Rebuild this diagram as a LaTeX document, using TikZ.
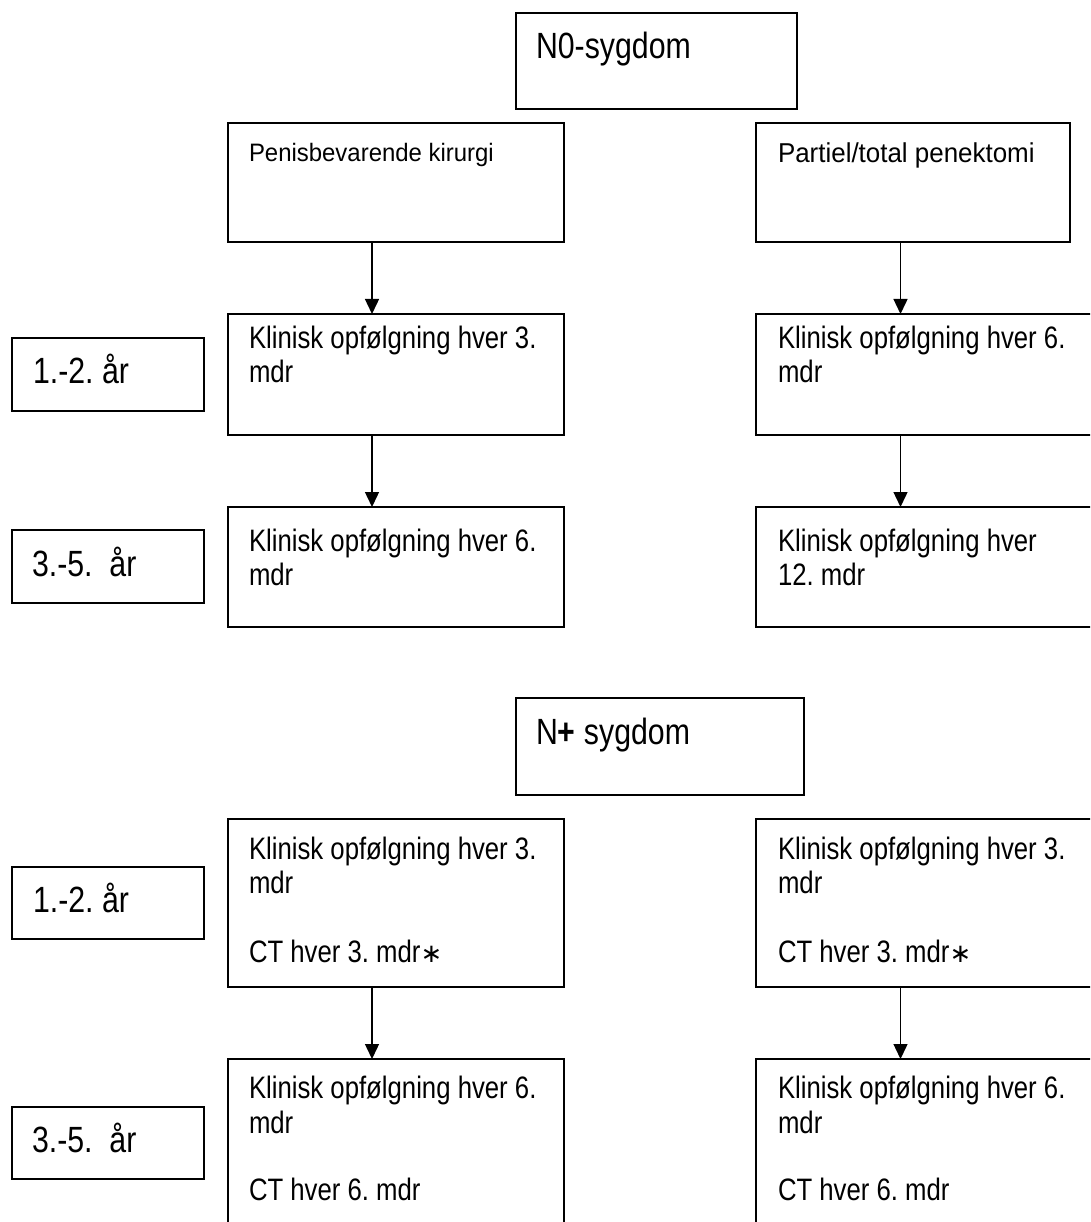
\documentclass[tikz,border=0pt]{standalone}
\usepackage{fontspec}
\usetikzlibrary{arrows.meta}
\newfontfamily\afn[FakeStretch=0.83]{Liberation Sans}
\newfontfamily\afw[FakeStretch=0.95]{Liberation Sans}
\newfontfamily\djv{DejaVu Sans}
\frenchspacing
\begin{document}
\begin{tikzpicture}[x=1pt,y=-1pt,
  boxst/.style={draw=black, line width=1.7pt, rectangle, inner sep=0pt, outer sep=0pt},
  txt/.style={anchor=base west, inner sep=0pt, outer sep=0pt, text=black},
  arr/.style={draw=black, line width=1.4pt, -{Triangle[width=14pt,length=15pt]}},
  kl/.style={txt, font=\afn\fontsize{31}{34}\selectfont},
  lab/.style={txt, font=\afn\fontsize{36.5}{40}\selectfont}]
\useasboundingbox (0,0) rectangle (1090,1222);
\clip (0,0) rectangle (1090,1222);
\fill[white] (0,0) rectangle (1090,1222);

% boxes
\node[boxst, minimum width=281pt, minimum height=96pt] (n0) at (656.5,61) {};
\node[boxst, minimum width=336pt, minimum height=119pt] (penis) at (396,182.5) {};
\node[boxst, minimum width=314pt, minimum height=119pt] (partiel) at (913,182.5) {};
\node[boxst, minimum width=336pt, minimum height=121pt] (k1l) at (396,374.5) {};
\node[boxst, minimum width=344pt, minimum height=121pt] (k1r) at (928,374.5) {};
\node[boxst, minimum width=336pt, minimum height=120pt] (k2l) at (396,567) {};
\node[boxst, minimum width=344pt, minimum height=120pt] (k2r) at (928,567) {};
\node[boxst, minimum width=192pt, minimum height=73pt] (lab1) at (108,374.5) {};
\node[boxst, minimum width=192pt, minimum height=73pt] (lab2) at (108,566.5) {};
\node[boxst, minimum width=288pt, minimum height=97pt] (nplus) at (660,746.5) {};
\node[boxst, minimum width=336pt, minimum height=168pt] (k3l) at (396,903) {};
\node[boxst, minimum width=344pt, minimum height=168pt] (k3r) at (928,903) {};
\node[boxst, minimum width=336pt, minimum height=181pt] (k4l) at (396,1149.5) {};
\node[boxst, minimum width=344pt, minimum height=181pt] (k4r) at (928,1149.5) {};
\node[boxst, minimum width=192pt, minimum height=72pt] (lab3) at (108,903) {};
\node[boxst, minimum width=192pt, minimum height=72pt] (lab4) at (108,1143) {};

% texts
\node[lab] (tn0) at (536,59) {N0-sygdom};
\node[txt, font=\afw\fontsize{25.2}{28}\selectfont] (tpenis) at (249,162) {Penisbevarende kirurgi};
\node[txt, font=\afw\fontsize{27.3}{30}\selectfont] (tpartiel) at (778,163) {Partiel/total penektomi};

\node[kl] (tk1la) at (249,348) {Klinisk opfølgning hver 3.};
\node[kl] (tk1lb) at (249,382) {mdr};
\node[kl] (tk1ra) at (778,348) {Klinisk opfølgning hver 6.};
\node[kl] (tk1rb) at (778,382) {mdr};
\node[kl] (tk2la) at (249,551) {Klinisk opfølgning hver 6.};
\node[kl] (tk2lb) at (249,585) {mdr};
\node[kl] (tk2ra) at (778,551) {Klinisk opfølgning hver};
\node[kl] (tk2rb) at (778,585) {12. mdr};

\node[lab] (tlab1) at (33,383) {1.-2. år};
\node[lab] (tlab2) at (32,576) {3.-5.~~år};
\node[lab] (tlab3) at (33,912) {1.-2. år};
\node[lab] (tlab4) at (32,1152) {3.-5.~~år};

\node[lab] (tnplus) at (536,744) {N\textbf{+} sygdom};

\node[kl] (tk3la) at (249,859) {Klinisk opfølgning hver 3.};
\node[kl] (tk3lb) at (249,893) {mdr};
\node[kl] (tk3lc) at (249,962) {CT hver 3. mdr{\djv\fontsize{26}{30}\selectfont ∗}};
\node[kl] (tk3ra) at (778,859) {Klinisk opfølgning hver 3.};
\node[kl] (tk3rb) at (778,893) {mdr};
\node[kl] (tk3rc) at (778,962) {CT hver 3. mdr{\djv\fontsize{26}{30}\selectfont ∗}};

\node[kl] (tk4la) at (249,1098) {Klinisk opfølgning hver 6.};
\node[kl] (tk4lb) at (249,1133) {mdr};
\node[kl] (tk4lc) at (249,1200) {CT hver 6. mdr};
\node[kl] (tk4ra) at (778,1098) {Klinisk opfølgning hver 6.};
\node[kl] (tk4rb) at (778,1133) {mdr};
\node[kl] (tk4rc) at (778,1200) {CT hver 6. mdr};

% arrows
\coordinate (cl) at (372,0);
\coordinate (cr) at (900.5,0);
\draw[arr] (penis.south -| cl) -- (k1l.north -| cl);
\draw[arr] (k1l.south -| cl) -- (k2l.north -| cl);
\draw[arr] (partiel.south -| cr) -- (k1r.north -| cr);
\draw[arr] (k1r.south -| cr) -- (k2r.north -| cr);
\draw[arr] (k3l.south -| cl) -- (k4l.north -| cl);
\draw[arr] (k3r.south -| cr) -- (k4r.north -| cr);
\end{tikzpicture}
\end{document}
